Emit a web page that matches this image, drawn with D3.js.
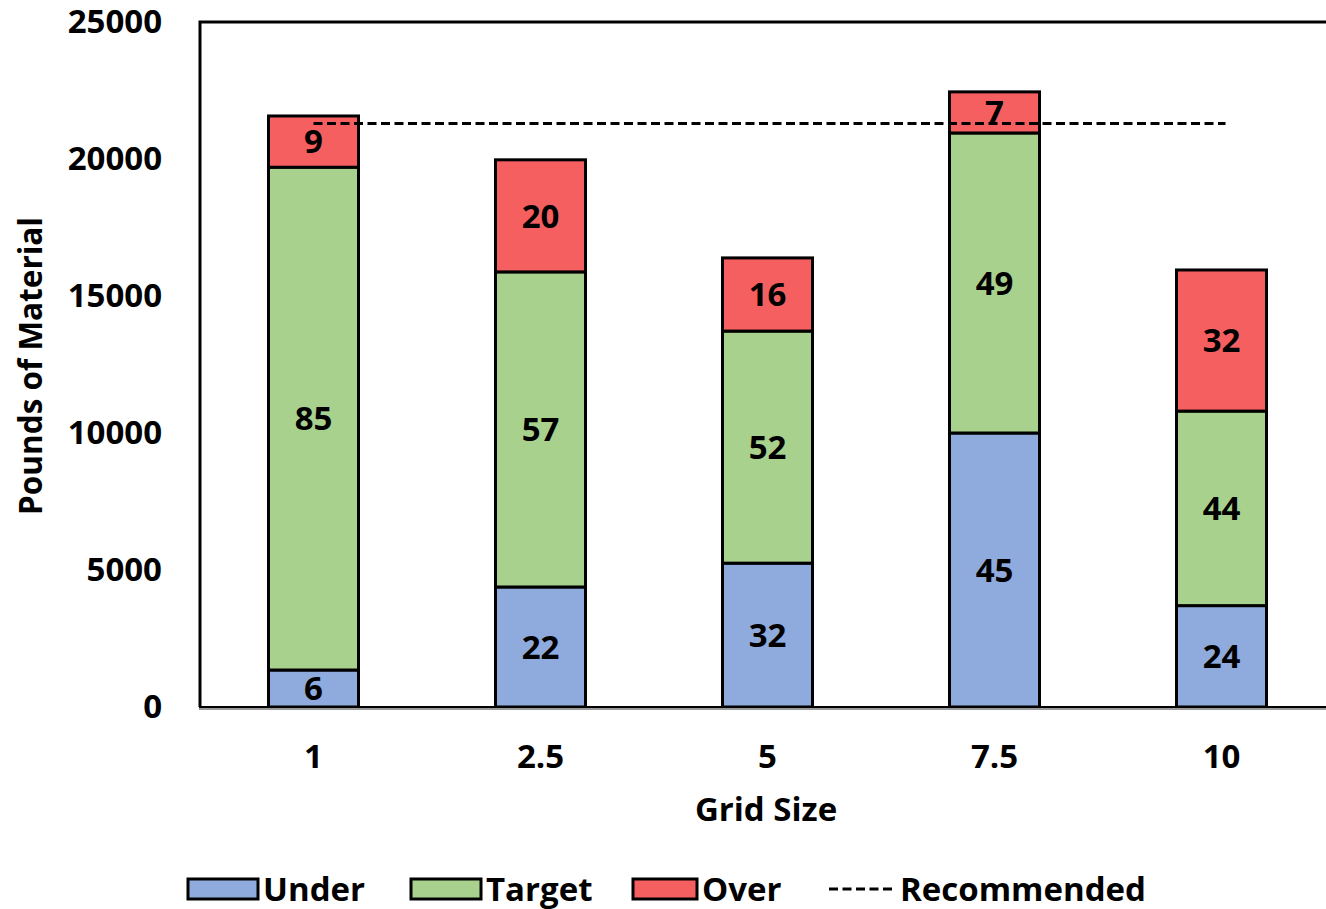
<!DOCTYPE html>
<html>
<head>
<meta charset="utf-8">
<script src="https://cdn.jsdelivr.net/npm/d3@7"></script>
<style>
  html, body { margin: 0; padding: 0; background: #fff; }
  svg { display: block; font-family: "Open Sans", sans-serif; font-weight: bold; }
</style>
</head>
<body>
<svg id="chart" width="1326" height="909"></svg>
<script>
// Grid sizes and pounds of material per category
const gridSizes = ["1", "2.5", "5", "7.5", "10"];
const underLbs  = [1350, 4380, 5250, 10000, 3700];
const targetLbs = [18350, 11500, 8470, 10950, 7100];
const overLbs   = [1870, 4090, 2670, 1500, 5150];
// Counts printed inside each segment
const underCount  = [6, 22, 32, 45, 24];
const targetCount = [85, 57, 52, 49, 44];
const overCount   = [9, 20, 16, 7, 32];
const recommendedLbs = 21300;
const yTicks = [0, 5000, 10000, 15000, 20000, 25000];

const seriesNames = ["Under", "Target", "Over"];
const seriesColors = { Under: "#8FAADC", Target: "#A9D18E", Over: "#F65F5F" };

const FONT = 33;
const svg = d3.select("#chart");
const plotLeft = 200, plotRight = 1335, plotTop = 22, plotBottom = 707;

const x = d3.scaleBand().domain(gridSizes).range([plotLeft, plotRight])
  .paddingInner(0.6035).paddingOuter(0.30175);
const y = d3.scaleLinear().domain([0, 25000]).range([plotBottom, plotTop]);

const rows = gridSizes.map((g, i) => ({
  grid: g,
  Under: underLbs[i], Target: targetLbs[i], Over: overLbs[i],
  counts: { Under: underCount[i], Target: targetCount[i], Over: overCount[i] }
}));
const stacked = d3.stack().keys(seriesNames)(rows);

// Plot frame (left and top edges)
svg.append("path")
  .attr("d", `M${plotLeft},${plotBottom} L${plotLeft},${plotTop} L1326,${plotTop}`)
  .attr("fill", "none").attr("stroke", "#000").attr("stroke-width", 3);

// Bars
stacked.forEach(layer => {
  const g = svg.append("g");
  g.selectAll("rect").data(layer).join("rect")
    .attr("x", d => x(d.data.grid))
    .attr("width", x.bandwidth())
    .attr("y", d => y(d[1]))
    .attr("height", d => y(d[0]) - y(d[1]))
    .attr("fill", seriesColors[layer.key])
    .attr("stroke", "#000").attr("stroke-width", 3);
});

// Baseline
svg.append("line").attr("x1", plotLeft - 1).attr("x2", 1326)
  .attr("y1", plotBottom + 2).attr("y2", plotBottom + 2)
  .attr("stroke", "#9a9a9a").attr("stroke-width", 2);
svg.append("line").attr("x1", plotLeft - 1).attr("x2", 1326)
  .attr("y1", plotBottom).attr("y2", plotBottom)
  .attr("stroke", "#000").attr("stroke-width", 2);

// Recommended amount
svg.append("line")
  .attr("x1", x(gridSizes[0]) + x.bandwidth() / 2)
  .attr("x2", x(gridSizes[gridSizes.length - 1]) + x.bandwidth() / 2 + 4)
  .attr("y1", y(recommendedLbs)).attr("y2", y(recommendedLbs))
  .attr("stroke", "#000").attr("stroke-width", 3)
  .attr("stroke-dasharray", "9,4.5");

// Segment counts
stacked.forEach(layer => {
  svg.append("g").selectAll("text").data(layer).join("text")
    .attr("x", d => x(d.data.grid) + x.bandwidth() / 2)
    .attr("y", d => (y(d[0]) + y(d[1])) / 2)
    .attr("dy", "0.36em")
    .attr("text-anchor", "middle")
    .attr("font-size", FONT)
    .attr("fill", "#000")
    .text(d => d.data.counts[layer.key]);
});

// Y axis labels
const yAxis = d3.axisLeft(y).tickValues(yTicks).tickFormat(d3.format("d"))
  .tickSize(0).tickPadding(38);
svg.append("g").attr("transform", `translate(${plotLeft},0)`).call(yAxis)
  .call(g => g.select(".domain").remove())
  .selectAll("text").attr("font-size", FONT).attr("font-family", "'Open Sans', sans-serif")
  .attr("font-weight", "bold").attr("fill", "#000");

// X axis labels
const xAxis = d3.axisBottom(x).tickSize(0).tickPadding(38);
svg.append("g").attr("transform", `translate(0,${plotBottom})`).call(xAxis)
  .call(g => g.select(".domain").remove())
  .selectAll("text").attr("font-size", FONT).attr("font-family", "'Open Sans', sans-serif")
  .attr("font-weight", "bold").attr("fill", "#000");

// Axis titles
svg.append("text").attr("x", 766).attr("y", 821).attr("text-anchor", "middle")
  .attr("font-size", FONT).text("Grid Size");
svg.append("text").attr("transform", "translate(42,366) rotate(-90)")
  .attr("text-anchor", "middle").attr("font-size", 31.5).text("Pounds of Material");

// Legend
const legendY = 889;
const legendItems = [
  { name: "Under", x: 188, w: 70, type: "rect" },
  { name: "Target", x: 411, w: 70, type: "rect" },
  { name: "Over", x: 633, w: 64, type: "rect" },
  { name: "Recommended", x: 829, w: 66, type: "line" }
];
legendItems.forEach(item => {
  if (item.type === "rect") {
    svg.append("rect").attr("x", item.x).attr("y", legendY - 10)
      .attr("width", item.w).attr("height", 20)
      .attr("fill", seriesColors[item.name]).attr("stroke", "#000").attr("stroke-width", 3);
  } else {
    svg.append("line").attr("x1", item.x).attr("x2", item.x + item.w)
      .attr("y1", legendY).attr("y2", legendY)
      .attr("stroke", "#000").attr("stroke-width", 3).attr("stroke-dasharray", "9,4.5");
  }
  svg.append("text").attr("x", item.x + item.w + 5).attr("y", 901)
    .attr("font-size", FONT).text(item.name);
});
</script>
</body>
</html>
